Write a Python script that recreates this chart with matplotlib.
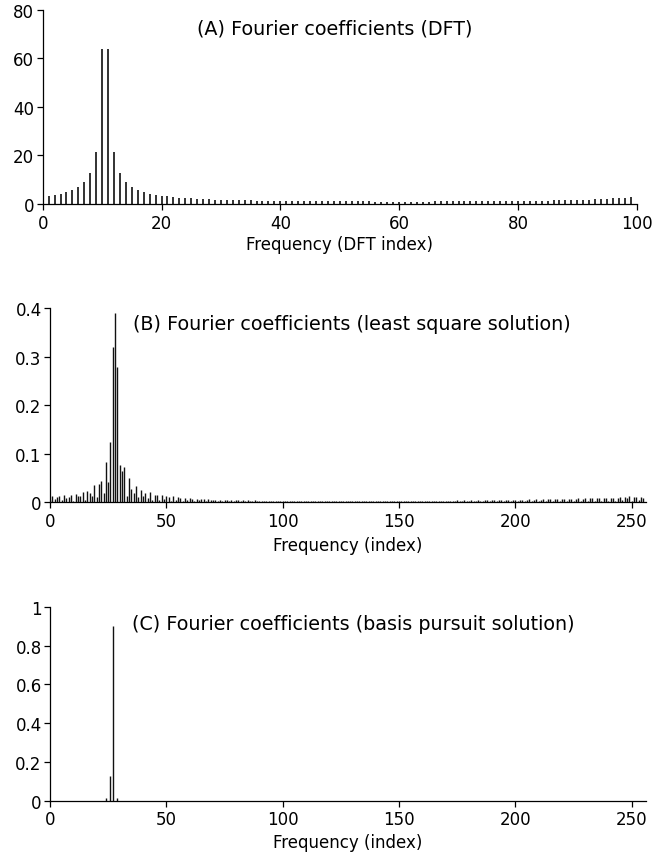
import numpy as np
import matplotlib
matplotlib.use("Agg")
import matplotlib.pyplot as plt

plt.rcParams['font.family'] = ['DejaVu Sans']
plt.rcParams['font.size'] = 12

# (A) DFT magnitudes, index 0..99
dft_index = np.arange(100)
dft_vals = [3.09, 3.40, 3.79, 4.28, 4.93, 5.82, 7.10, 9.11, 12.75, 21.23, 63.66,
            63.66, 21.23, 12.75, 9.11, 7.10, 5.82, 4.93, 4.28, 3.79, 3.40,
            3.09, 2.83, 2.61, 2.43, 2.27, 2.14, 2.02, 1.91, 1.82, 1.74,
            1.67, 1.60, 1.54, 1.49, 1.44, 1.39, 1.35, 1.32, 1.28, 1.25,
            1.22, 1.20, 1.17, 1.15, 1.13, 1.11, 1.10, 1.08, 1.07, 1.06,
            1.05, 1.04, 1.03, 1.02, 1.015, 1.01, 1.006, 1.003, 1.001, 1.0,
            1.0, 1.001, 1.003, 1.006, 1.01, 1.015, 1.02, 1.03, 1.04, 1.05,
            1.06, 1.07, 1.08, 1.10, 1.11, 1.13, 1.15, 1.17, 1.20, 1.22,
            1.25, 1.28, 1.32, 1.35, 1.39, 1.44, 1.49, 1.54, 1.60, 1.67,
            1.74, 1.82, 1.91, 2.02, 2.14, 2.27, 2.43, 2.61, 2.83]

# (B) least square solution, index 0..255
ls_index = np.arange(256)
ls_vals = [
    0.004, 0.012, 0.006, 0.010, 0.012, 0.004, 0.014, 0.008, 0.011, 0.015, 0.003, 0.018, 0.012, 0.013, 0.022, 0.004,
    0.024, 0.020, 0.013, 0.036, 0.011, 0.038, 0.043, 0.019, 0.082, 0.042, 0.125, 0.320, 0.390, 0.278, 0.077, 0.065,
    0.072, 0.012, 0.049, 0.028, 0.020, 0.034, 0.010, 0.025, 0.013, 0.020, 0.008, 0.022, 0.005, 0.016, 0.015, 0.004,
    0.016, 0.006, 0.012, 0.011, 0.003, 0.012, 0.005, 0.010, 0.009, 0.003, 0.009, 0.005, 0.008, 0.007, 0.003, 0.007,
    0.004, 0.006, 0.006, 0.002, 0.006, 0.004, 0.005, 0.005, 0.002, 0.005, 0.003, 0.005, 0.004, 0.002, 0.004, 0.003,
    0.004, 0.004, 0.002, 0.004, 0.003, 0.004, 0.003, 0.002, 0.004, 0.003, 0.003, 0.003, 0.002, 0.003, 0.003, 0.003,
    0.003, 0.002, 0.003, 0.002, 0.003, 0.003, 0.002, 0.003, 0.002, 0.003, 0.003, 0.002, 0.003, 0.002, 0.003, 0.003,
    0.003, 0.002, 0.003, 0.002, 0.003, 0.003, 0.002, 0.003, 0.002, 0.003, 0.003, 0.002, 0.003, 0.002, 0.003, 0.003,
    0.003, 0.002, 0.003, 0.002, 0.003, 0.003, 0.002, 0.003, 0.002, 0.003, 0.003, 0.002, 0.003, 0.002, 0.003, 0.003,
    0.003, 0.002, 0.003, 0.002, 0.003, 0.003, 0.002, 0.003, 0.002, 0.003, 0.003, 0.002, 0.003, 0.002, 0.003, 0.003,
    0.003, 0.002, 0.003, 0.003, 0.002, 0.003, 0.003, 0.002, 0.003, 0.003, 0.002, 0.003, 0.003, 0.002, 0.003, 0.004,
    0.003, 0.002, 0.004, 0.003, 0.002, 0.004, 0.003, 0.003, 0.004, 0.003, 0.002, 0.004, 0.004, 0.002, 0.004, 0.004,
    0.003, 0.004, 0.005, 0.002, 0.004, 0.005, 0.003, 0.004, 0.005, 0.003, 0.005, 0.005, 0.002, 0.005, 0.006, 0.003,
    0.005, 0.006, 0.003, 0.005, 0.006, 0.002, 0.006, 0.006, 0.003, 0.006, 0.007, 0.003, 0.006, 0.007, 0.002, 0.007,
    0.007, 0.003, 0.007, 0.008, 0.003, 0.007, 0.008, 0.002, 0.008, 0.008, 0.003, 0.008, 0.009, 0.003, 0.008, 0.009,
    0.002, 0.009, 0.009, 0.003, 0.009, 0.010, 0.004, 0.011, 0.008, 0.012, 0.003, 0.011, 0.010, 0.005, 0.010, 0.008,
]

# (C) basis pursuit solution: nonzero entries only
bp_index = [24, 26, 27, 29]
bp_vals = [0.015, 0.129, 0.90, 0.016]

fig = plt.figure(figsize=(6.56, 8.54), dpi=100)
axA = fig.add_axes([0.0651, 0.7600, 0.9055, 0.2275])
axB = fig.add_axes([0.0762, 0.4107, 0.9081, 0.2272])
axC = fig.add_axes([0.0762, 0.0612, 0.9081, 0.2272])

title_size = 13.8


def style(ax):
    for s in ['top', 'right']:
        ax.spines[s].set_visible(False)
    for s in ['left', 'bottom']:
        ax.spines[s].set_linewidth(0.9)
    ax.tick_params(direction='out', length=4.2, width=0.9, color='black')
    ax.tick_params(axis='x', pad=2.8)
    ax.tick_params(axis='y', pad=1.8)


axA.vlines(dft_index, 0, dft_vals, color='#222222', lw=1.3)
axA.set_xlim(0, 100)
axA.set_ylim(0, 80)
axA.set_xticks([0, 20, 40, 60, 80, 100])
axA.set_yticks([0, 20, 40, 60, 80])
style(axA)
axA.text(0.492, 0.907, '(A) Fourier coefficients (DFT)', transform=axA.transAxes,
         ha='center', va='center', fontsize=title_size)
axA.set_xlabel('Frequency (DFT index)')
axA.xaxis.set_label_coords(0.5, -0.208)
axA.xaxis.label.set_va('center')

axB.vlines(ls_index, 0, ls_vals, color='#111111', lw=1.0)
axB.set_xlim(0, 256)
axB.set_ylim(0, 0.4)
axB.set_xticks([0, 50, 100, 150, 200, 250])
axB.set_yticks([0, 0.1, 0.2, 0.3, 0.4])
axB.set_yticklabels(['0', '0.1', '0.2', '0.3', '0.4'])
style(axB)
axB.text(0.140, 0.919, '(B) Fourier coefficients (least square solution)',
         transform=axB.transAxes, ha='left', va='center', fontsize=title_size)
axB.set_xlabel('Frequency (index)')
axB.xaxis.set_label_coords(0.5, -0.221)
axB.xaxis.label.set_va('center')

axC.vlines(bp_index, 0, bp_vals, color='#111111', lw=1.0)
axC.set_xlim(0, 256)
axC.set_ylim(0, 1)
axC.set_xticks([0, 50, 100, 150, 200, 250])
axC.set_yticks([0, 0.2, 0.4, 0.6, 0.8, 1])
axC.set_yticklabels(['0', '0.2', '0.4', '0.6', '0.8', '1'])
style(axC)
axC.text(0.137, 0.914, '(C) Fourier coefficients (basis pursuit solution)',
         transform=axC.transAxes, ha='left', va='center', fontsize=title_size)
axC.set_xlabel('Frequency (index)')
axC.xaxis.set_label_coords(0.5, -0.212)
axC.xaxis.label.set_va('center')

fig.savefig('out.png', dpi=100)
